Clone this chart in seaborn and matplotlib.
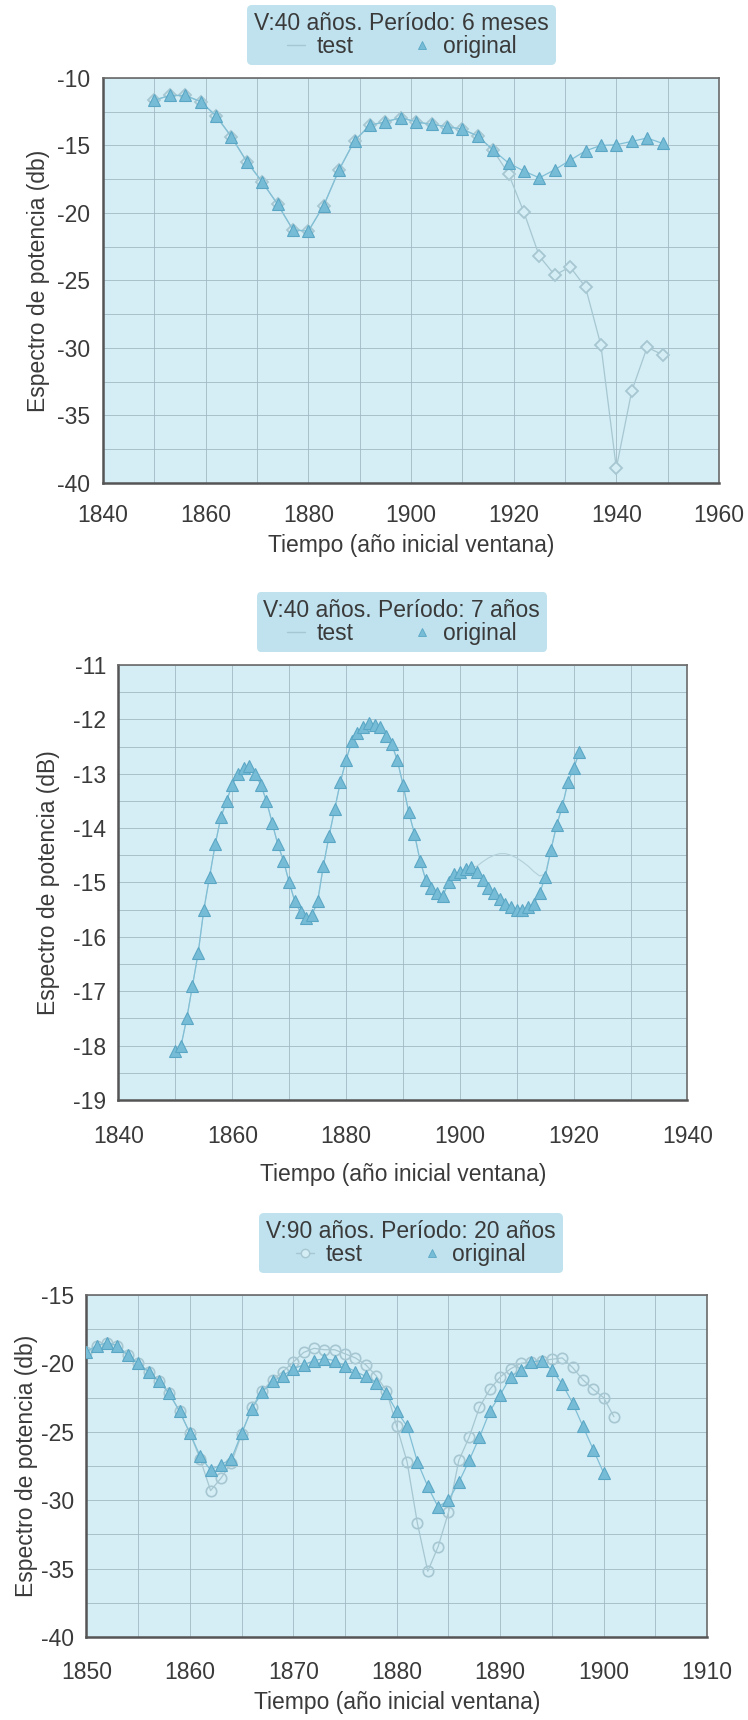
import matplotlib
matplotlib.use('Agg')
import matplotlib.pyplot as plt
import seaborn as sns
from matplotlib.ticker import MultipleLocator
from matplotlib.lines import Line2D

# ---------------- data ----------------
P1_TITLE = "V:40 años. Período: 6 meses"
P1_YEARS = [1850, 1853, 1856, 1859, 1862, 1865, 1868, 1871, 1874, 1877, 1880, 1883,
            1886, 1889, 1892, 1895, 1898, 1901, 1904, 1907, 1910, 1913, 1916, 1919,
            1922, 1925, 1928, 1931, 1934, 1937, 1940, 1943, 1946, 1949]
P1_ORIG = [-11.65, -11.3, -11.3, -11.75, -12.8, -14.35, -16.2, -17.7, -19.35, -21.25,
           -21.35, -19.45, -16.8, -14.65, -13.5, -13.25, -12.95, -13.25, -13.45, -13.6,
           -13.8, -14.3, -15.35, -16.3, -16.9, -17.4, -16.8, -16.1, -15.4, -15.0,
           -14.95, -14.7, -14.45, -14.85]
P1_TEST = [-11.65, -11.3, -11.3, -11.75, -12.8, -14.35, -16.2, -17.7, -19.35, -21.25,
           -21.35, -19.45, -16.8, -14.65, -13.5, -13.25, -12.95, -13.25, -13.45, -13.6,
           -13.8, -14.3, -15.35, -17.1, -19.95, -23.2, -24.6, -24.0, -25.5, -29.8,
           -38.9, -33.2, -29.95, -30.5]

P2_TITLE = "V:40 años. Período: 7 años"
P2_YEARS = [1850, 1851, 1852, 1853, 1854, 1855, 1856, 1857, 1858, 1859, 1860, 1861,
            1862, 1863, 1864, 1865, 1866, 1867, 1868, 1869, 1870, 1871, 1872, 1873,
            1874, 1875, 1876, 1877, 1878, 1879, 1880, 1881, 1882, 1883, 1884, 1885,
            1886, 1887, 1888, 1889, 1890, 1891, 1892, 1893, 1894, 1895, 1896, 1897,
            1898, 1899, 1900, 1901, 1902, 1903, 1904, 1905, 1906, 1907, 1908, 1909,
            1910, 1911, 1912, 1913, 1914, 1915, 1916, 1917, 1918, 1919, 1920, 1921]
P2_ORIG = [-18.1, -18.0, -17.5, -16.9, -16.3, -15.5, -14.9, -14.3, -13.8, -13.5, -13.2, -13.0,
           -12.9, -12.85, -13.0, -13.2, -13.5, -13.9, -14.3, -14.6, -15.0, -15.35, -15.55, -15.65,
           -15.6, -15.35, -14.7, -14.15, -13.65, -13.15, -12.75, -12.4, -12.25, -12.15, -12.07, -12.1,
           -12.15, -12.3, -12.45, -12.75, -13.2, -13.7, -14.1, -14.6, -14.95, -15.1, -15.2, -15.25,
           -15.0, -14.85, -14.8, -14.75, -14.72, -14.8, -14.95, -15.1, -15.2, -15.3, -15.4, -15.45,
           -15.5, -15.5, -15.45, -15.4, -15.2, -14.9, -14.4, -13.95, -13.6, -13.15, -12.9, -12.6]
P2_TEST = [-18.1, -18.0, -17.5, -16.9, -16.3, -15.5, -14.9, -14.3, -13.8, -13.5, -13.2, -13.0,
           -12.9, -12.85, -13.0, -13.2, -13.5, -13.9, -14.3, -14.6, -15.0, -15.35, -15.55, -15.65,
           -15.6, -15.35, -14.7, -14.15, -13.65, -13.15, -12.75, -12.4, -12.25, -12.15, -12.07, -12.1,
           -12.15, -12.3, -12.45, -12.75, -13.2, -13.7, -14.1, -14.6, -14.95, -15.1, -15.2, -15.25,
           -15.0, -14.85, -14.8, -14.75, -14.72, -14.7, -14.62, -14.55, -14.5, -14.47, -14.47, -14.5,
           -14.55, -14.62, -14.7, -14.8, -14.88, -14.85, -14.4, -13.95, -13.6, -13.15, -12.9, -12.6]

P3_TITLE = "V:90 años. Período: 20 años"
P3_YEARS_ORIG = [1850, 1851, 1852, 1853, 1854, 1855, 1856, 1857, 1858, 1859, 1860, 1861,
                 1862, 1863, 1864, 1865, 1866, 1867, 1868, 1869, 1870, 1871, 1872, 1873,
                 1874, 1875, 1876, 1877, 1878, 1879, 1880, 1881, 1882, 1883, 1884, 1885,
                 1886, 1887, 1888, 1889, 1890, 1891, 1892, 1893, 1894, 1895, 1896, 1897,
                 1898, 1899, 1900]
P3_ORIG = [-19.15, -18.7, -18.5, -18.7, -19.4, -20.0, -20.6, -21.3, -22.2, -23.5, -25.1, -26.8,
           -27.8, -27.4, -27.0, -25.1, -23.3, -22.1, -21.3, -20.9, -20.4, -20.1, -19.8, -19.65,
           -19.8, -20.2, -20.6, -20.95, -21.4, -22.2, -23.5, -24.6, -27.2, -29.0, -30.5, -30.0,
           -28.7, -27.1, -25.4, -23.5, -22.3, -21.0, -20.5, -19.9, -19.8, -20.5, -21.5, -22.9,
           -24.6, -26.3, -28.0]
P3_YEARS_TEST = [1850, 1851, 1852, 1853, 1854, 1855, 1856, 1857, 1858, 1859, 1860, 1861,
                 1862, 1863, 1864, 1865, 1866, 1867, 1868, 1869, 1870, 1871, 1872, 1873,
                 1874, 1875, 1876, 1877, 1878, 1879, 1880, 1881, 1882, 1883, 1884, 1885,
                 1886, 1887, 1888, 1889, 1890, 1891, 1892, 1893, 1894, 1895, 1896, 1897,
                 1898, 1899, 1900, 1901]
P3_TEST = [-19.15, -18.7, -18.5, -18.7, -19.4, -20.0, -20.6, -21.3, -22.2, -23.5, -25.1, -27.0,
           -29.3, -28.4, -27.3, -25.2, -23.2, -22.0, -21.2, -20.6, -19.9, -19.2, -18.9, -19.0,
           -19.0, -19.3, -19.6, -20.1, -20.9, -22.0, -24.6, -27.2, -31.7, -35.2, -33.4, -30.9,
           -27.1, -25.4, -23.2, -21.9, -21.0, -20.4, -20.0, -19.9, -19.8, -19.7, -19.6, -20.3,
           -21.2, -21.9, -22.5, -23.9]

LEGEND_LABELS = ["test", "original"]
XLABEL = "Tiempo (año inicial ventana)"

# ---------------- style ----------------
sns.set_theme(style='white')
plt.rcParams['font.family'] = ['Liberation Sans', 'DejaVu Sans']
plt.rcParams['axes.unicode_minus'] = False

BG = '#d5edf5'
BOX = '#bfe2ee'
TRI_FACE = '#76bcd6'
TRI_EDGE = '#5aa7c5'
ORIG_LINE = '#80bfd6'
TEST_COL = '#a6c7d1'
GRID = '#a0b9c2'
TXT = '#3a3a3a'
SPINE = '#555555'
FS = 16.5

fig = plt.figure(figsize=(7.48, 17.2), dpi=100)
ax1 = fig.add_axes([0.1377, 0.7192, 0.8235, 0.2355])
ax2 = fig.add_axes([0.1584, 0.3605, 0.7607, 0.2529])
ax3 = fig.add_axes([0.1156, 0.0483, 0.8296, 0.1988])


def style(ax, xlim, ylim, xmaj, xmin, ymaj, ymin, ylabel, ylab_x, xlab_y, xpad):
    ax.set_facecolor(BG)
    ax.set_xlim(*xlim)
    ax.set_ylim(*ylim)
    ax.xaxis.set_major_locator(MultipleLocator(xmaj))
    ax.xaxis.set_minor_locator(MultipleLocator(xmin))
    ax.yaxis.set_major_locator(MultipleLocator(ymaj))
    ax.yaxis.set_minor_locator(MultipleLocator(ymin))
    ax.grid(True, which='both', color=GRID, lw=0.6)
    ax.set_axisbelow(True)
    for s in ['left', 'bottom']:
        ax.spines[s].set_color(SPINE)
        ax.spines[s].set_linewidth(1.8)
    for s in ['top', 'right']:
        ax.spines[s].set_color('#6a6a6a')
        ax.spines[s].set_linewidth(1.2)
    ax.tick_params(axis='both', which='major', direction='out', length=4, width=1,
                   color=SPINE, labelsize=FS, labelcolor=TXT)
    ax.tick_params(axis='both', which='minor', direction='out', length=3, width=0.8,
                   color=SPINE)
    ax.tick_params(axis='x', which='major', pad=xpad)
    ax.tick_params(axis='y', which='major', pad=5)
    ax.set_ylabel(ylabel, fontsize=FS, color=TXT)
    ax.set_xlabel(XLABEL, fontsize=FS, color=TXT)
    ax.yaxis.set_label_coords(ylab_x, 0.5)
    ax.xaxis.set_label_coords(0.5, xlab_y)


def add_legend(ax, title, test_marker, cx, gap):
    h_test = Line2D([], [], color=TEST_COL, lw=1.0, marker=test_marker, markersize=6,
                    markerfacecolor=BG, markeredgecolor=TEST_COL)
    h_orig = Line2D([], [], color='none', lw=0, marker='^', markersize=6,
                    markerfacecolor=TRI_FACE, markeredgecolor=TRI_EDGE, markeredgewidth=0.6)
    leg = ax.legend(handles=[h_test, h_orig], labels=LEGEND_LABELS, title=title, ncol=2,
                    loc='lower center', bbox_to_anchor=(cx, 1 + gap), frameon=True,
                    fancybox=True, fontsize=FS, title_fontsize=FS, handlelength=0.8,
                    handletextpad=0.5, columnspacing=2.6, borderpad=0.3, labelspacing=0.0,
                    borderaxespad=0)
    fr = leg.get_frame()
    fr.set_facecolor(BOX)
    fr.set_edgecolor('none')
    fr.set_alpha(1)
    for t in leg.get_texts():
        t.set_color(TXT)
    leg.get_title().set_color(TXT)


# ---- panel 1 ----
sns.lineplot(x=P1_YEARS, y=P1_TEST, ax=ax1, color=TEST_COL, lw=0.9, marker='D',
             markersize=6.5, markerfacecolor=BG, markeredgecolor=TEST_COL,
             markeredgewidth=1.3, zorder=3)
sns.lineplot(x=P1_YEARS, y=P1_ORIG, ax=ax1, color=ORIG_LINE, lw=0.9, marker='^',
             markersize=8.5, markerfacecolor=TRI_FACE, markeredgecolor=TRI_EDGE,
             markeredgewidth=0.8, zorder=4)
style(ax1, (1840, 1960), (-40, -10), 20, 10, 5, 2.5,
      "Espectro de potencia (db)", -0.086, -0.125, 11)
add_legend(ax1, P1_TITLE, None, 0.485, 0.032)

# ---- panel 2 ----
sns.lineplot(x=P2_YEARS, y=P2_TEST, ax=ax2, color='#b3d0d9', lw=0.8, zorder=3)
sns.lineplot(x=P2_YEARS, y=P2_ORIG, ax=ax2, color=ORIG_LINE, lw=0.9, marker='^',
             markersize=8.5, markerfacecolor=TRI_FACE, markeredgecolor=TRI_EDGE,
             markeredgewidth=0.8, zorder=4)
style(ax2, (1840, 1940), (-19, -11), 20, 10, 1, 0.5,
      "Espectro de potencia (dB)", -0.103, -0.146, 14)
add_legend(ax2, P2_TITLE, None, 0.498, 0.030)

# ---- panel 3 ----
sns.lineplot(x=P3_YEARS_TEST, y=P3_TEST, ax=ax3, color=TEST_COL, lw=0.9, marker='o',
             markersize=7.5, markerfacecolor='none', markeredgecolor=TEST_COL,
             markeredgewidth=1.2, zorder=3)
sns.lineplot(x=P3_YEARS_ORIG, y=P3_ORIG, ax=ax3, color=ORIG_LINE, lw=0.9, marker='^',
             markersize=8.5, markerfacecolor=TRI_FACE, markeredgecolor=TRI_EDGE,
             markeredgewidth=0.8, zorder=4)
style(ax3, (1850, 1910), (-40, -15), 10, 5, 5, 2.5,
      "Espectro de potencia (db)", -0.078, -0.158, 13)
add_legend(ax3, P3_TITLE, 'o', 0.523, 0.064)

fig.savefig('out.png', dpi=100, facecolor='white')
